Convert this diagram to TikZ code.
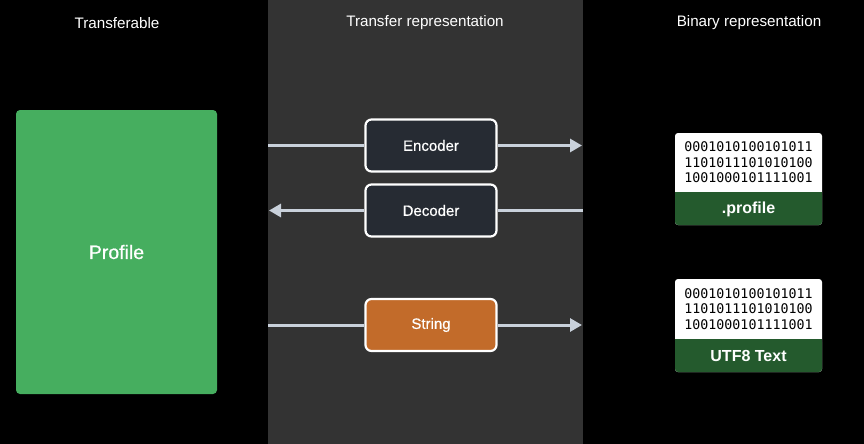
\documentclass[tikz,border=0pt]{standalone}
\usepackage{fontspec}
\setmainfont{Liberation Sans}
\newfontfamily\binfont{DejaVu Sans Mono}
\newfontfamily\medfont[FakeBold=0.6]{Liberation Sans}
\usetikzlibrary{arrows.meta}
\definecolor{panelgray}{HTML}{333333}
\definecolor{profgreen}{HTML}{46AE5F}
\definecolor{boxnavy}{HTML}{262B33}
\definecolor{strorange}{HTML}{C26B2A}
\definecolor{linegray}{HTML}{C9D1DB}
\definecolor{darkgreen}{HTML}{245A2D}
\tikzset{
  header/.style={text=white, font=\fontsize{15.2}{17}\selectfont, anchor=center},
  stagebox/.style={draw=white, line width=2.2pt, rounded corners=6pt, minimum width=131pt, minimum height=52pt, text=white, font=\medfont\fontsize{15}{17}\selectfont},
  conn/.style={draw=linegray, line width=3pt},
  arr/.style={conn, -{Triangle[length=12pt, width=13pt]}},
  bincard/.style={fill=white, rounded corners=3pt},
  bintext/.style={font=\binfont\fontsize{13.3}{15.5}\selectfont, align=left, text=black},
  binlabel/.style={text=white, font=\bfseries\fontsize{16}{18}\selectfont}
}
\begin{document}
\begin{tikzpicture}[x=1pt,y=-1pt]
\useasboundingbox (0,0) rectangle (864,444);
\fill[black] (0,0) rectangle (864,444);
\fill[panelgray] (268,0) rectangle (583,444);
% headers
\node[header] (h1) at (117,23) {Transferable};
\node[header] (h2) at (425,23) {Transfer representation};
\node[header] (h3) at (749,23) {Binary representation};
% profile
\node[fill=profgreen, rounded corners=4pt, minimum width=201pt, minimum height=284pt, text=white, font=\medfont\fontsize{19.5}{22}\selectfont] (profile) at (116.5,252) {Profile};
% stage boxes
\node[stagebox, fill=boxnavy] (enc) at (431,145.5) {Encoder};
\node[stagebox, fill=boxnavy] (dec) at (431,210.5) {Decoder};
\node[stagebox, fill=strorange] (str) at (431,325) {String};
% coordinates for connectors
\coordinate (e0) at (268,145.5);
\coordinate (e1) at (582,145.5);
\coordinate (d0) at (583,210.5);
\coordinate (d1) at (269,210.5);
\coordinate (s0) at (268,325);
\coordinate (s1) at (582,325);
\draw[conn] (e0) -- (enc.west);
\draw[arr] (enc.east) -- (e1);
\draw[conn] (d0) -- (dec.east);
\draw[arr] (dec.west) -- (d1);
\draw[conn] (s0) -- (str.west);
\draw[arr] (str.east) -- (s1);
% binary cards
\begin{scope}
\path[bincard] (675,133) rectangle (822,225);
\path[fill=darkgreen, rounded corners=3pt] (675,192) rectangle (822,225);
\fill[darkgreen] (675,192) rectangle (822,200);
\node[bintext] (b1) at (748.5,162.5) {0001010100101011\\1101011101010100\\1001000101111001};
\node[binlabel] (l1) at (748.5,209.5) {.profile};
\end{scope}
\begin{scope}
\path[bincard] (675,279) rectangle (822,372);
\path[fill=darkgreen, rounded corners=3pt] (675,339) rectangle (822,372);
\fill[darkgreen] (675,339) rectangle (822,347);
\node[bintext] (b2) at (748.5,309) {0001010100101011\\1101011101010100\\1001000101111001};
\node[binlabel] (l2) at (748.5,356) {UTF8 Text};
\end{scope}
\end{tikzpicture}
\end{document}
